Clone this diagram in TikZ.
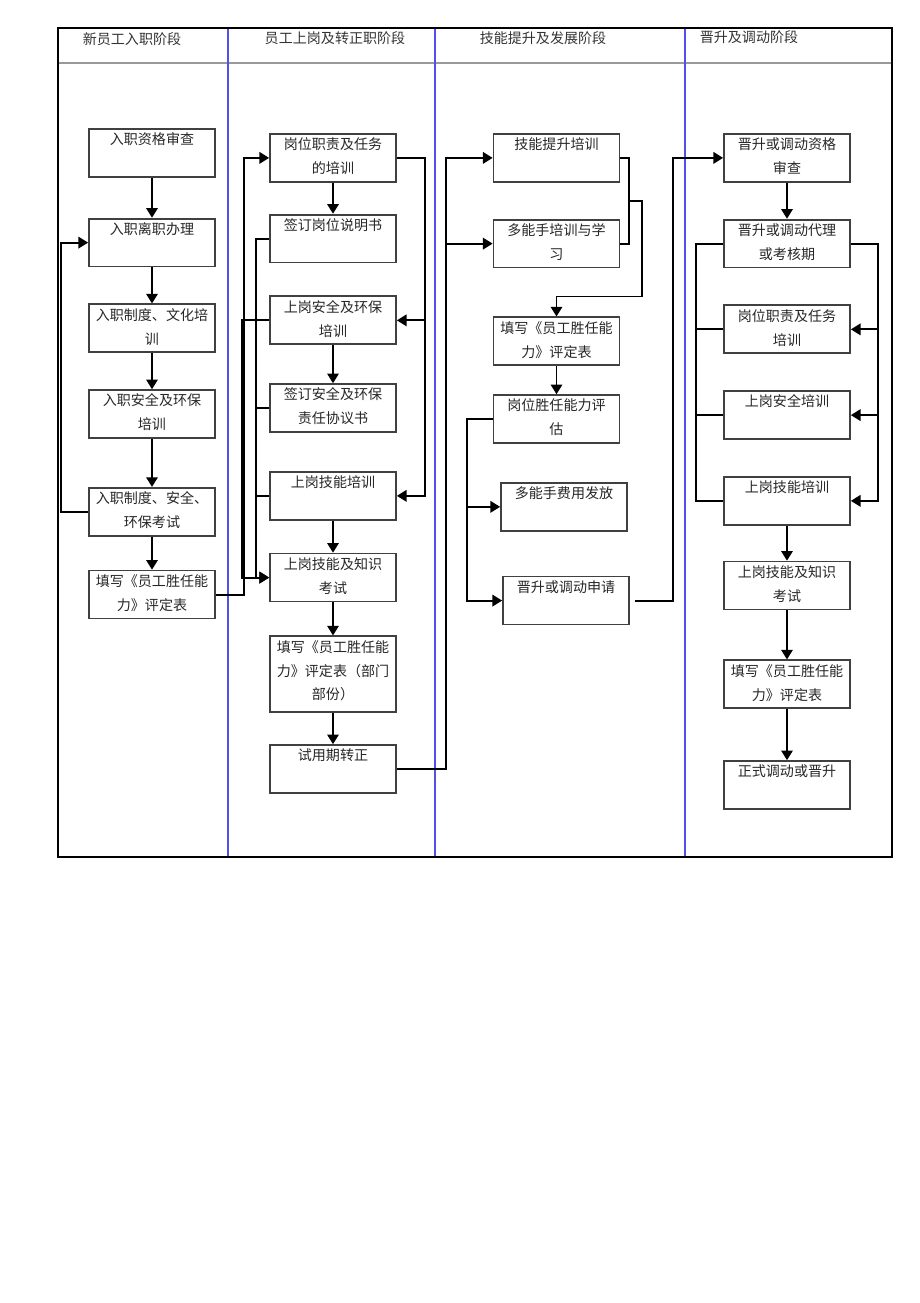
\documentclass[tikz,border=0pt]{standalone}
\usepackage{fontspec}
\setmainfont{Noto Sans CJK SC}
\usetikzlibrary{positioning, arrows.meta, calc}

\definecolor{laneblue}{RGB}{80,80,235}
\newcommand{\cell}[2][0.96cm]{\parbox[t][#1][t]{2.52cm}{\centering\rule{0pt}{9pt}#2}}

\begin{document}
\begin{tikzpicture}[x=0.02cm, y=-0.02cm, line width=1.1pt, >={Triangle[length=5.5pt, width=6.5pt]},
    stagebox/.style={draw=black!75, line width=1pt, inner sep=0pt, anchor=north, text=black!85, font=\fontsize{8}{13.6}\selectfont},
    title/.style={text=black!80, font=\fontsize{8}{10}\selectfont}]
                \useasboundingbox (0,0) rectangle (920,1303);
                % frame and lanes
                \draw[line width=1pt] (58,28) rectangle (892,857);
                \draw[gray!80, line width=1.5pt] (59,63) -- (891,63);
                \foreach \x in {228,435,685}
                    \draw[laneblue, line width=1pt] (\x,29) -- (\x,856);
                \node[title] (head1) at (132,39) {新员工入职阶段};
                \node[title] (head2) at (335,38) {员工上岗及转正职阶段};
                \node[title] (head3) at (543,38) {技能提升及发展阶段};
                \node[title] (head4) at (749,37) {晋升及调动阶段};
                % column 1
                \node[stagebox] (hire1) at (152,128) {\cell{入职资格审查}};
                \node[stagebox, below=0.8cm of hire1] (hire2) {\cell{入职离职办理}};
                \node[stagebox, below=0.72cm of hire2] (hire3) {\cell{入职制度、文化培\\训}};
                \node[stagebox, below=0.72cm of hire3] (hire4) {\cell{入职安全及环保\\培训}};
                \node[stagebox, below=0.96cm of hire4] (hire5) {\cell{入职制度、安全、\\环保考试}};
                \node[stagebox, below=0.66cm of hire5] (hire6) {\cell{填写《员工胜任能\\力》评定表}};
                % column 2
                \node[stagebox] (post1) at (333,133) {\cell{岗位职责及任务\\的培训}};
                \node[stagebox, below=0.62cm of post1] (post2) {\cell{签订岗位说明书}};
                \node[stagebox, below=0.64cm of post2] (post3) {\cell{上岗安全及环保\\培训}};
                \node[stagebox, below=0.76cm of post3] (post4) {\cell{签订安全及环保\\责任协议书}};
                \node[stagebox, below=0.76cm of post4] (post5) {\cell{上岗技能培训}};
                \node[stagebox, below=0.64cm of post5] (post6) {\cell{上岗技能及知识\\考试}};
                \node[stagebox, below=0.66cm of post6] (post7) {\cell[1.52cm]{填写《员工胜任能\\力》评定表（部门\\部份）}};
                \node[stagebox, below=0.62cm of post7] (post8) {\cell{试用期转正}};
                % column 3
                \node[stagebox] (skill1) at (556.5,133) {\cell{技能提升培训}};
                \node[stagebox, below=0.72cm of skill1] (skill2) {\cell{多能手培训与学\\习}};
                \node[stagebox, below=0.96cm of skill2] (skill3) {\cell{填写《员工胜任能\\力》评定表}};
                \node[stagebox, below=0.56cm of skill3] (skill4) {\cell{岗位胜任能力评\\估}};
                \node[stagebox, below=0.76cm of skill4, xshift=0.15cm] (skill5) {\cell{多能手费用发放}};
                \node[stagebox, below=0.88cm of skill5, xshift=0.04cm] (skill6) {\cell{晋升或调动申请}};
                % column 4
                \node[stagebox] (promo1) at (787,133) {\cell{晋升或调动资格\\审查}};
                \node[stagebox, below=0.72cm of promo1] (promo2) {\cell{晋升或调动代理\\或考核期}};
                \node[stagebox, below=0.72cm of promo2] (promo3) {\cell{岗位职责及任务\\培训}};
                \node[stagebox, below=0.72cm of promo3] (promo4) {\cell{上岗安全培训}};
                \node[stagebox, below=0.72cm of promo4] (promo5) {\cell{上岗技能培训}};
                \node[stagebox, below=0.7cm of promo5] (promo6) {\cell{上岗技能及知识\\考试}};
                \node[stagebox, below=0.98cm of promo6] (promo7) {\cell{填写《员工胜任能\\力》评定表}};
                \node[stagebox, below=1.02cm of promo7] (promo8) {\cell{正式调动或晋升}};
                % connectors, column 1
                \draw[->] (hire1) -- (hire2);
                \draw[->] (hire2) -- (hire3);
                \draw[->] (hire3) -- (hire4);
                \draw[->] (hire4) -- (hire5);
                \draw[->] (hire5) -- (hire6);
                \draw[->] (hire5.west) -- ++(-27,0) |- (hire2.west);
                \draw[->] (hire6.east) -- ++(28,0) |- (post1.west);
                % column 2
                \draw[->] (post1) -- (post2);
                \draw[->] (post3) -- (post4);
                \draw[->] (post5) -- (post6);
                \draw[->] (post6) -- (post7);
                \draw[->] (post7) -- (post8);
                \draw[->] (post1.east) -- ++(28,0) |- (post3.east);
                \draw[->] (post1.east) -- ++(28,0) |- (post5.east);
                \draw[->] (post3.west) -- ++(-27,0) |- (post6.west);
                \draw[->] (post2.west) -- ++(-13,0) |- (post6.west);
                \draw (post4.west) -- ++(-13,0);
                \draw (post5.west) -- ++(-13,0);
                \draw[->] (post8.east) -- ++(49,0) |- (skill1.west);
                \draw[->] (post8.east) -- ++(49,0) |- (skill2.west);
                % column 3
                \draw (skill1.east) -- ++(9,0) |- (skill2.east);
                \coordinate (skillJoin) at ($(skill1.east)!0.5!(skill2.east)+(9,0)$);
                \draw[->] (skillJoin) -- ++(13,0) |- ($(skill3.north)+(0,-20)$) -- (skill3.north);
                \draw[->] (skill3) -- (skill4);
                \draw[->] (skill4.west) -- ++(-26,0) |- (skill5.west);
                \draw[->] (skill4.west) -- ++(-26,0) |- (skill6.west);
                \draw[->, shorten <=0.1cm] (skill6.east) -- ++(43,0) |- (promo1.west);
                % column 4
                \draw[->] (promo1) -- (promo2);
                \draw[->] (promo2.east) -- ++(27,0) |- (promo3.east);
                \draw[->] (promo2.east) -- ++(27,0) |- (promo4.east);
                \draw[->] (promo2.east) -- ++(27,0) |- (promo5.east);
                \draw (promo2.west) -- ++(-27,0) |- (promo5.west);
                \draw (promo3.west) -- ++(-27,0);
                \draw (promo4.west) -- ++(-27,0);
                \draw[->] (promo5) -- (promo6);
                \draw[->] (promo6) -- (promo7);
                \draw[->] (promo7) -- (promo8);
            \end{tikzpicture}
\end{document}
